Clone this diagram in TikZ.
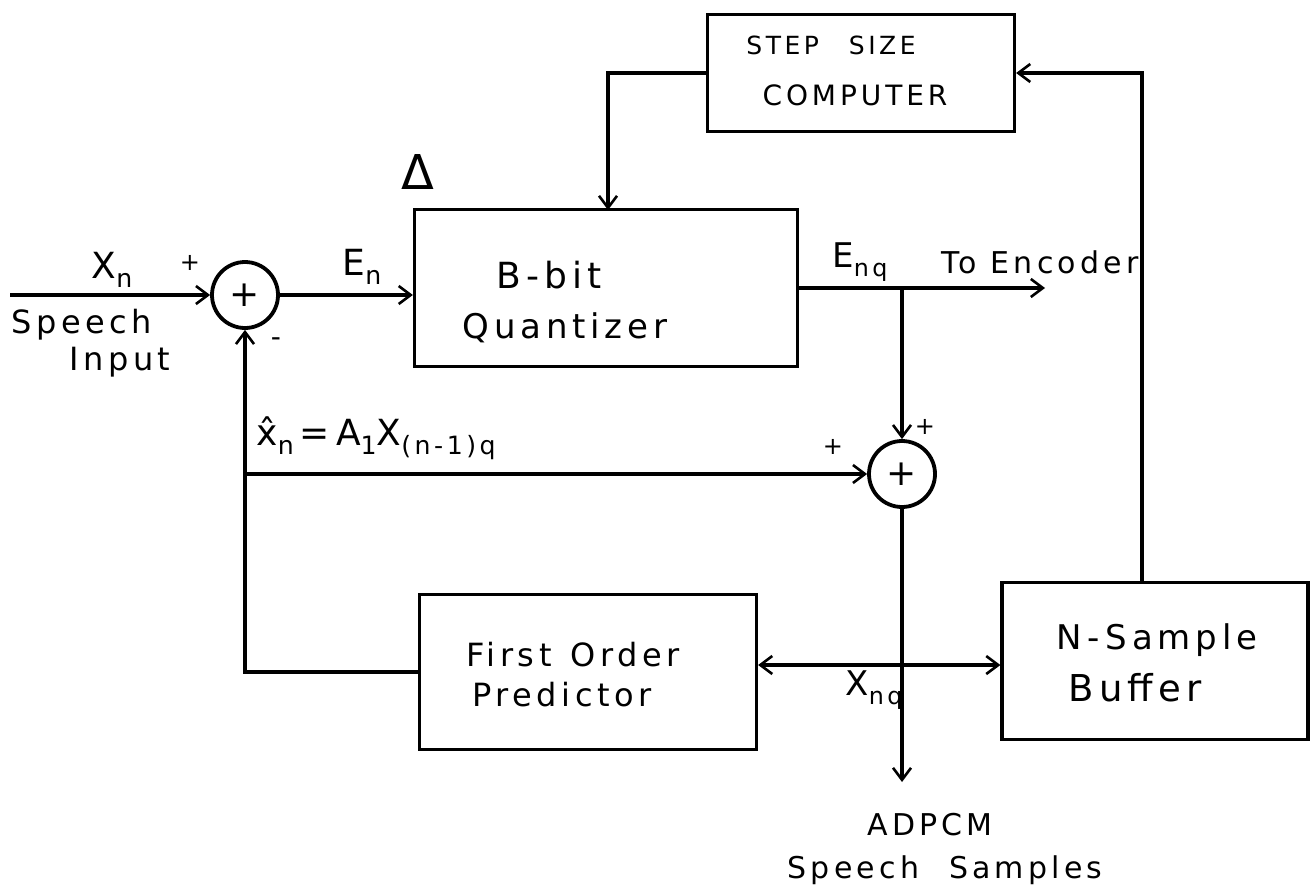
\documentclass[tikz,border=0pt]{standalone}
\usepackage{fontspec}
\setmainfont[LetterSpace=14]{DejaVu Sans}
\usetikzlibrary{arrows.meta,calc}
\newcommand{\mysub}[1]{\raisebox{-0.45ex}{\scalebox{0.7}{#1}}}
\newcommand{\fs}[1]{\fontsize{#1}{#1}\selectfont}
\begin{document}
\begin{tikzpicture}[x=0.5pt,y=-0.5pt,line width=1.6pt,
  blk/.style={draw,line width=1.6pt,inner sep=0pt},
  sumc/.style={draw,circle,line width=1.9pt,minimum size=33pt,inner sep=0pt,font=\fs{18}},
  arr/.style={-{Straight Barb[length=6pt,width=9pt,line width=1.3pt]}},
  lbl/.style={inner sep=0pt,font=\fs{17}},
  big/.style={inner sep=0pt,font=\fs{18}},
  sml/.style={inner sep=0pt,font=\fs{12}},
]
\useasboundingbox (0,0) rectangle (1310,894);
% blocks
\node[blk,minimum width=153.5pt,minimum height=58.5pt] (step) at (861,73) {};
\node[blk,minimum width=191.5pt,minimum height=78.5pt] (quant) at (606,288) {};
\node[blk,minimum width=168.5pt,minimum height=77.5pt] (pred) at (588,672) {};
\node[blk,minimum width=153pt,minimum height=78.5pt] (buf) at (1155,661) {};
\node[sumc] (s1) at (245,295) {+};
\node[sumc] (s2) at (902,474) {+};
% block texts
\node[sml,font=\fs{12.5}] (t1) at (831,45) {STEP\hspace{1.2em}SIZE};
\node[sml,font=\fs{14}] (t2) at (855,95) {COMPUTER};
\node[lbl,font=\fs{18}] (t3) at (549,275) {B-bit};
\node[lbl] (t4) at (565,328) {Quantizer};
\node[lbl,font=\fs{16}] (t5) at (573,655) {First\hspace{0.6em}Order};
\node[lbl,font=\fs{16}] (t6) at (562,695) {Predictor};
\node[lbl] (t7) at (1157,640) {N\,-\,Sample};
\node[lbl,font=\fs{18.5}] (t8) at (1135,688) {Buffer};
% coordinates
\coordinate (in) at (10,295);
\coordinate (qin) at (608,210);
\coordinate (jq) at (s2 |- quant.east);
\coordinate (enc) at (1045,288);
\coordinate (jb) at (s1 |- s2);
\coordinate (jx) at (s2 |- 0,665);
\coordinate (adp) at (s2 |- 0,782);
\coordinate (bo) at ([xshift=-6.5pt]buf.north);
% connectors
\draw[arr] (in) -- (s1.west);
\draw[arr] (s1.east) -- (s1.east -| quant.west);
\draw[arr] (step.west) -| (qin);
\draw[arr] (quant.east) -- (enc);
\draw[arr] (jq) -- (s2.north);
\draw[arr] (pred.west) -| (s1.south);
\draw[arr] (jb) -- (s2.west);
\draw[arr] (s2.south) -- (adp);
\draw[arr] (jx) -- (jx -| pred.east);
\draw[arr] (jx) -- (jx -| buf.west);
\draw[arr] (bo) |- (step.east);
% labels
\node[big] (lx) at (112,270) {X\mysub{n}};
\node[sml] (p1) at (190,263) {+};
\node[sml,font=\fs{14}] (m1) at (276,342) {-};
\node[lbl,font=\fs{16},anchor=west] (sp) at (10,325) {Speech};
\node[lbl,font=\fs{16},anchor=west] (ip) at (68,362) {Input};
\node[big] (le) at (362,267) {E\mysub{n}};
\node[inner sep=0pt,font=\fs{24}] (dl) at (418,172) {Δ};
\node[lbl] (leq) at (860,262) {E\mysub{nq}};
\node[lbl,font=\fs{15}] (te) at (1040,262) {To Encoder};
\node[big,anchor=west] (xh) at (255,438) {\^{x}\mysub{n}\,=\,A\mysub{1}X\mysub{(n-1)q}};
\node[sml] (p2) at (833,447) {+};
\node[sml] (p3) at (925,427) {+};
\node[lbl] (xnq) at (874,690) {X\mysub{nq}};
\node[lbl,font=\fs{15}] (ad) at (930,825) {ADPCM};
\node[lbl,font=\fs{15}] (ss) at (945,870) {Speech\hspace{1em}Samples};
\end{tikzpicture}
\end{document}
